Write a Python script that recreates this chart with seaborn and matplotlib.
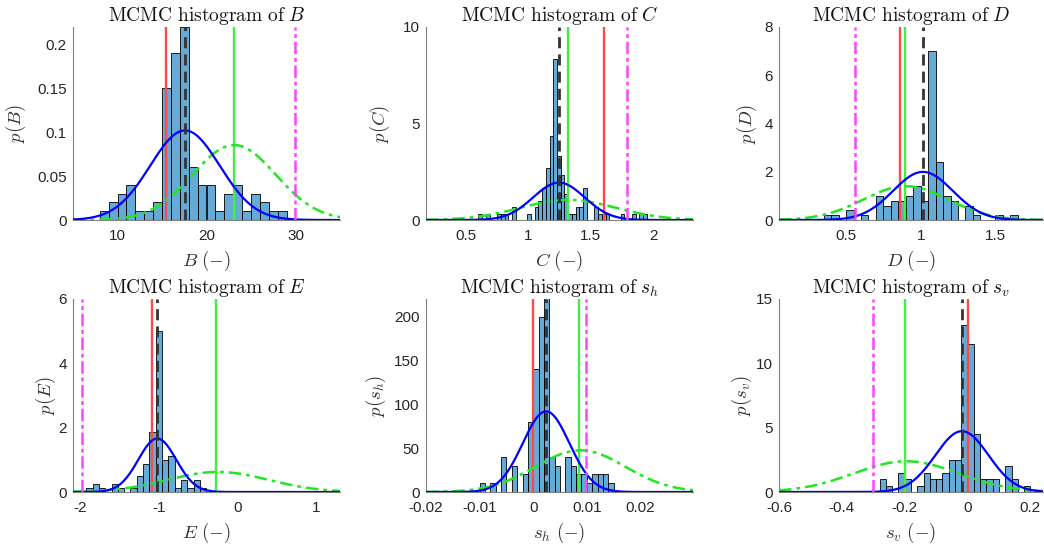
import numpy as np
import pandas as pd
import matplotlib
matplotlib.use("Agg")
import matplotlib.pyplot as plt
from matplotlib.ticker import FuncFormatter
import seaborn as sns

# ---------------- data ----------------
params = ["B", "C", "D", "E", "s_h", "s_v"]

# histogram bins: first edge, bin width, bar heights (pdf values)
B_bin_start, B_bin_width = 8.0, 1.0
B_heights = [0.01, 0.02, 0.03, 0.04, 0.01, 0.01, 0.02, 0.15, 0.19, 0.22, 0.06,
             0.04, 0.04, 0.01, 0.03, 0.04, 0.01, 0.03, 0.02, 0.01, 0.01]

C_bin_start, C_bin_width = 0.60, 0.03
C_heights = [0.33, 0, 0.33, 0, 0, 0.33, 0.33, 0.33, 0, 0.67, 0, 0, 0, 0.33, 0,
             0.67, 1.0, 1.67, 2.67, 4.33, 8.33, 3.33, 2.33, 1.33, 0.33, 0.33,
             0.67, 0.67, 1.67, 0, 0, 0.67, 0.33, 0.33, 0.33, 0, 0, 0, 0.33, 0,
             0, 0.33, 0, 0.33, 0.33]

D_bin_start, D_bin_width = 0.35, 0.05
D_heights = [0.2, 0.2, 0, 0.4, 0, 0.2, 0, 1.0, 0.6, 0.8, 0.8, 1.0, 1.4, 0.8,
             7.0, 2.4, 1.0, 0.8, 0, 0.6, 0.2, 0, 0, 0.2, 0, 0.2]

E_bin_start, E_bin_width = -1.92, 0.08
E_heights = [0.125, 0.25, 0.125, 0, 0.25, 0.125, 0, 0.125, 0.5, 0.875, 1.875,
             5.0, 1.0, 1.125, 0.125, 0.375, 0.125, 0.375, 0.125]

sh_bin_start, sh_bin_width = -0.010, 0.001
sh_heights = [10, 0, 10, 0, 40, 0, 30, 0, 20, 80, 140, 200, 230, 40, 30, 0,
              40, 30, 20, 20, 10, 20, 20, 20, 10]

sv_bin_start, sv_bin_width = -0.28, 0.02
sv_heights = [1.0, 0.5, 0, 1.5, 1.0, 0, 0.5, 1.5, 1.0, 1.0, 1.5, 2.5, 2.5,
              13.0, 11.5, 4.5, 1.0, 1.0, 1.0, 0, 2.0, 1.0, 0, 0.5]

# fitted posterior normal (blue) and prior normal (green dash-dot): mean, std
post_mean = [17.58, 1.245, 1.015, -1.02, 0.0024, -0.018]
post_std = [3.91, 0.206, 0.20, 0.24, 0.00434, 0.0844]
prior_mean = [23.1, 1.32, 0.90, -0.25, 0.0088, -0.195]
prior_std = [4.67, 0.383, 0.285, 0.64, 0.0084, 0.167]

# vertical reference lines
red_line = [15.4, 1.61, 0.86, -1.09, 0.0, 0.0]
green_line = [23.05, 1.32, 0.895, -0.28, 0.0085, -0.20]
black_line = [17.58, 1.245, 1.015, -1.02, 0.0024, -0.018]
magenta_line = [30.0, 1.79, 0.56, -1.97, 0.0098, -0.30]

# axis ranges and ticks
x_limits = [(5, 35), (0.18, 2.32), (0.05, 1.82), (-2.09, 1.3), (-0.02, 0.0298), (-0.6, 0.24)]
y_limits = [(0, 0.22), (0, 10), (0, 8), (0, 6), (0, 220), (0, 15)]
x_ticks = [[10, 20, 30], [0.5, 1, 1.5, 2], [0.5, 1, 1.5], [-2, -1, 0, 1],
           [-0.02, -0.01, 0, 0.01, 0.02], [-0.6, -0.4, -0.2, 0, 0.2]]
y_ticks = [[0, 0.05, 0.1, 0.15, 0.2], [0, 5, 10], [0, 2, 4, 6, 8], [0, 2, 4, 6],
           [0, 50, 100, 150, 200], [0, 5, 10, 15]]
tex_names = ["B", "C", "D", "E", "s_h", "s_v"]

bins_info = [(B_bin_start, B_bin_width, B_heights), (C_bin_start, C_bin_width, C_heights),
             (D_bin_start, D_bin_width, D_heights), (E_bin_start, E_bin_width, E_heights),
             (sh_bin_start, sh_bin_width, sh_heights), (sv_bin_start, sv_bin_width, sv_heights)]

# ---------------- style ----------------
sns.set_theme(style="white")
plt.rcParams["font.family"] = ["Liberation Sans", "DejaVu Sans"]
plt.rcParams["mathtext.fontset"] = "cm"

fig = plt.figure(figsize=(10.44, 5.46), dpi=100)
W, H = 1044.0, 546.0
col_left = [73, 426, 779]
col_width = [267, 267, 264]
row_top = [27, 299]
ax_h = 193
ylabel_x = [-0.1685, -0.127, -0.0758, -0.055, -0.142, -0.0947]

bar_color = (0.0, 0.447, 0.741)
tick_col = "#262626"

for i, name in enumerate(params):
    r, c = divmod(i, 3)
    ax = fig.add_axes([col_left[c] / W, 1 - (row_top[r] + ax_h) / H,
                       col_width[c] / W, ax_h / H])
    start, width, heights = bins_info[i]
    heights = np.asarray(heights, dtype=float)
    edges = start + width * np.arange(len(heights) + 1)
    centers = edges[:-1] + width / 2
    df = pd.DataFrame({"x": centers, "w": heights})
    sns.histplot(data=df, x="x", weights="w", bins=[float(e) for e in edges],
                 stat="count", ax=ax, color=bar_color, alpha=0.6,
                 edgecolor="black", linewidth=0.6)

    xl = x_limits[i]
    xs = np.linspace(xl[0], xl[1], 500)
    post = np.exp(-0.5 * ((xs - post_mean[i]) / post_std[i]) ** 2) / (post_std[i] * np.sqrt(2 * np.pi))
    prior = np.exp(-0.5 * ((xs - prior_mean[i]) / prior_std[i]) ** 2) / (prior_std[i] * np.sqrt(2 * np.pi))

    ax.axvline(red_line[i], color="#FF4848", lw=1.7, zorder=3)
    ax.axvline(green_line[i], color="#44EE44", lw=1.7, zorder=3)
    sns.lineplot(x=xs, y=prior, ax=ax, color="#22E622", lw=1.8,
                 linestyle=(0, (5, 2, 1.5, 2)), zorder=4)
    sns.lineplot(x=xs, y=post, ax=ax, color="#0000FF", lw=1.6, zorder=5)
    ax.axvline(black_line[i], color="#333333", lw=2.0, linestyle=(0, (4, 2.2)), zorder=6)
    ax.axvline(magenta_line[i], color="#FF44FF", lw=1.8,
               linestyle=(0, (5, 1.5, 1.5, 1.5)), zorder=6)

    ax.set_xlim(*xl)
    ax.set_ylim(*y_limits[i])
    ax.set_xticks(x_ticks[i])
    ax.set_yticks(y_ticks[i])
    fmt = FuncFormatter(lambda v, p: f"{v:g}")
    ax.xaxis.set_major_formatter(fmt)
    ax.yaxis.set_major_formatter(fmt)
    ax.tick_params(axis="both", direction="in", length=3, width=0.6,
                   color="#555555", labelsize=11, labelcolor=tick_col)
    ax.tick_params(axis="x", pad=6.5)
    ax.tick_params(axis="y", pad=4.5)
    for s in ["top", "right"]:
        ax.spines[s].set_visible(False)
    for s in ["left", "bottom"]:
        ax.spines[s].set_color("#808080")
        ax.spines[s].set_linewidth(0.8)

    nm = tex_names[i]
    ax.set_title(r"$\mathrm{MCMC\ histogram\ of}\ " + nm + "$", fontsize=14,
                 color="#111111", pad=4)
    ax.set_xlabel(r"$" + nm + r"\ (-)$", fontsize=13.5, color="#333333", labelpad=4)
    ax.set_ylabel(r"$p(" + nm + ")$", fontsize=13.5, color="#333333")
    ax.yaxis.set_label_coords(ylabel_x[i], 0.5)
    ax.grid(False)

fig.savefig("out.png", dpi=100)
